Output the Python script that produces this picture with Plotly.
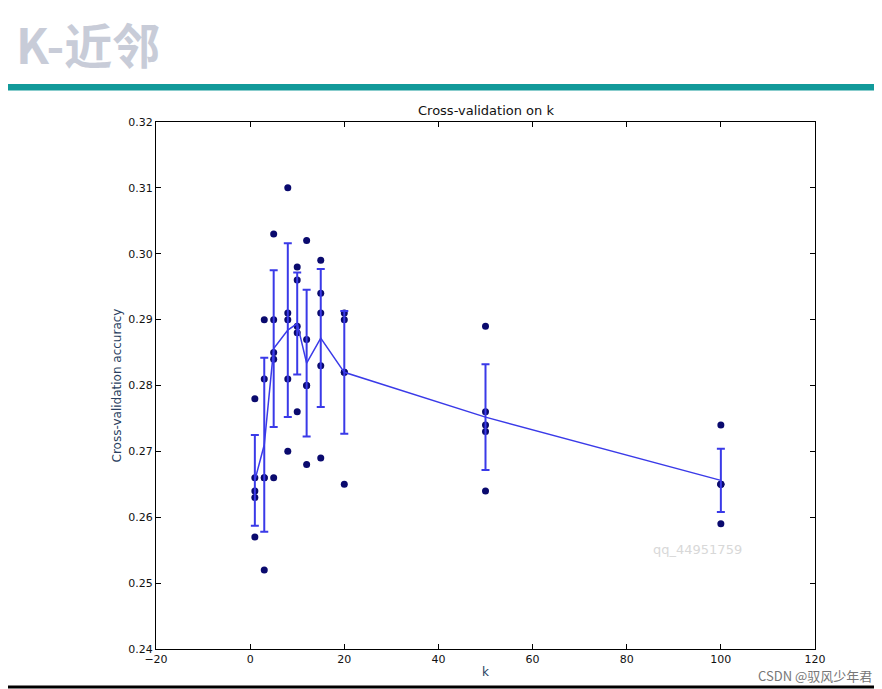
import numpy as np
import plotly.graph_objects as go

k_values = [1, 3, 5, 8, 10, 12, 15, 20, 50, 100]
scores = [
    [0.278, 0.266, 0.264, 0.263, 0.257],
    [0.290, 0.281, 0.266, 0.266, 0.252],
    [0.303, 0.290, 0.285, 0.284, 0.266],
    [0.310, 0.291, 0.290, 0.281, 0.270],
    [0.298, 0.296, 0.289, 0.288, 0.276],
    [0.302, 0.287, 0.280, 0.280, 0.268],
    [0.299, 0.294, 0.291, 0.283, 0.269],
    [0.291, 0.290, 0.282, 0.282, 0.265],
    [0.289, 0.276, 0.274, 0.273, 0.264],
    [0.274, 0.265, 0.265, 0.265, 0.259],
]

means = [float(np.mean(s)) for s in scores]
stds = [float(np.std(s)) for s in scores]
xs = [k for k, s in zip(k_values, scores) for _ in s]
ys = [v for s in scores for v in s]

fig = go.Figure()
fig.add_trace(go.Scatter(x=xs, y=ys, mode="markers",
                         marker=dict(color="#0a0a6e", size=7), showlegend=False))
fig.add_trace(go.Scatter(x=k_values, y=means, mode="lines",
                         line=dict(color="#3a3ae8", width=1.5),
                         error_y=dict(type="data", array=stds, color="#3a3ae8", thickness=2, width=4),
                         showlegend=False))

ax = dict(showline=True, mirror="ticks", linecolor="black", linewidth=1, ticks="inside",
          ticklen=5, tickcolor="black", showgrid=False, zeroline=False,
          tickfont=dict(family="DejaVu Sans", size=11, color="#111"))
fig.update_xaxes(range=[-20, 120], dtick=20, title=dict(text="k", font=dict(size=12, family="DejaVu Sans"), standoff=2), **ax)
fig.update_yaxes(range=[0.24, 0.32], dtick=0.01, tickformat=".2f",
                 title=dict(text="Cross-validation accuracy", font=dict(size=12, family="DejaVu Sans"), standoff=4), **ax)

fig.update_layout(
    width=882, height=689, paper_bgcolor="white", plot_bgcolor="white",
    margin=dict(l=148, r=75, t=114, b=48),
    shapes=[
        dict(type="rect", xref="paper", yref="paper", x0=-0.23, x1=1.11, y0=1.06, y1=1.072,
             fillcolor="#129a9a", line=dict(width=0)),
        dict(type="line", xref="paper", yref="paper", x0=-0.23, x1=1.11, y0=-0.072, y1=-0.072,
             line=dict(color="black", width=3)),
    ],
    annotations=[
        dict(text="Cross-validation on k", xref="paper", yref="paper", x=0.5, y=1.0,
             xanchor="center", yanchor="bottom", yshift=2, showarrow=False,
             font=dict(family="DejaVu Sans", size=13, color="#111")),
        dict(text="<b>K-近邻</b>", xref="paper", yref="paper", x=-0.215, y=1.15, xanchor="left", yanchor="middle",
             showarrow=False, font=dict(family="Noto Sans CJK SC", size=48, color="#c8ccd8")),
        dict(text="qq_44951759", xref="x", yref="y", x=95, y=0.2551, showarrow=False,
             font=dict(family="DejaVu Sans", size=13, color="#d8d8d8")),
        dict(text="CSDN @驭风少年君", xref="paper", yref="paper", x=1.09, y=-0.05, xanchor="right",
             yanchor="middle", showarrow=False, font=dict(family="Noto Sans CJK SC", size=13, color="#777")),
    ],
)
fig.write_html("out.html")
